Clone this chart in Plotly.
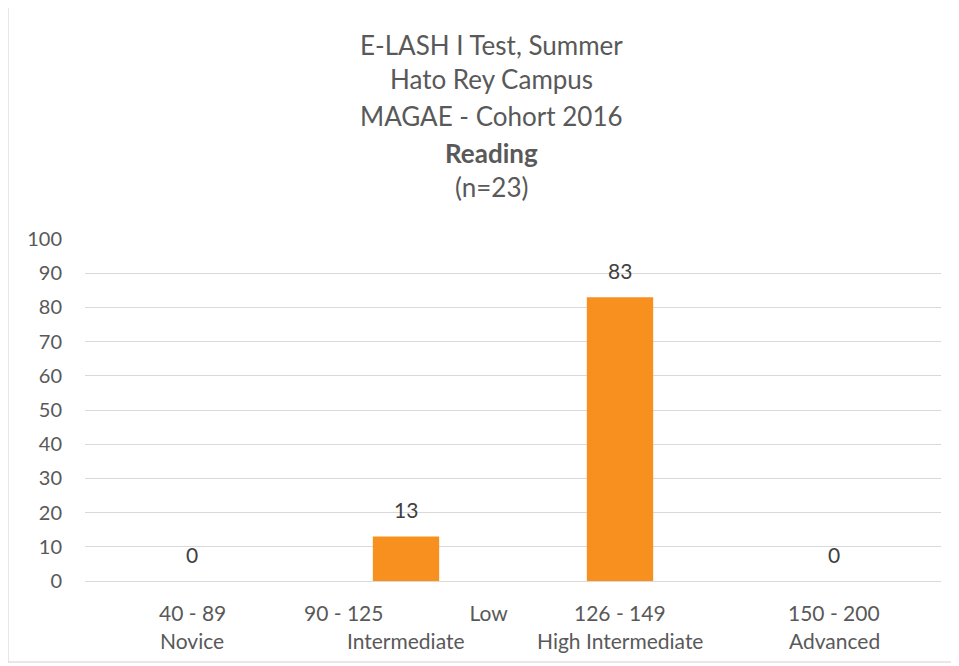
import plotly.graph_objects as go

categories = ["40 - 89 Novice", "90 - 125 Low Intermediate", "126 - 149 High Intermediate", "150 - 200 Advanced"]
label_line1 = ["40 - 89", "90 - 125" + "&nbsp;" * 16 + "Low", "126 - 149", "150 - 200"]
label_line2 = ["Novice", "Intermediate", "High Intermediate", "Advanced"]
values = [0, 13, 83, 0]
y_ticks = [0, 10, 20, 30, 40, 50, 60, 70, 80, 90, 100]
title_lines = ["E-LASH I Test, Summer", "Hato Rey Campus", "MAGAE - Cohort 2016", "<b>Reading</b>", "(n=23)"]

FONT = "Lato"
GREY = "#595959"

# page body adds an 8px offset; compensate
OFF = 8
W, H = 959 - OFF, 666 - OFF
L, R, T, B = 85 - OFF, 959 - 941, 239 - OFF, 666 - 581
pw, ph = W - L - R, H - T - B

def py(p):
    return (H - B - (p - OFF)) / ph

def px(p):
    return ((p - OFF) - L) / pw

fig = go.Figure()
fig.add_trace(go.Bar(
    x=categories, y=values, width=0.31,
    marker=dict(color="#F7901E", line=dict(width=0)),
    hoverinfo="skip",
))

annotations = []
title_y = [45, 79, 116, 153, 187]
for line, yp in zip(title_lines, title_y):
    annotations.append(dict(text=line, x=px(491), y=py(yp), xref="paper", yref="paper",
                            showarrow=False, xanchor="center", yanchor="middle",
                            font=dict(family=FONT, size=26, color=GREY)))

for cat, l1, l2 in zip(categories, label_line1, label_line2):
    annotations.append(dict(text=l1, x=cat, y=py(612), xref="x", yref="paper",
                            showarrow=False, xanchor="center", yanchor="middle",
                            font=dict(family=FONT, size=21, color=GREY)))
    annotations.append(dict(text=l2, x=cat, y=py(640), xref="x", yref="paper",
                            showarrow=False, xanchor="center", yanchor="middle",
                            font=dict(family=FONT, size=21, color=GREY)))

for cat, v in zip(categories, values):
    annotations.append(dict(text=str(v), x=cat, y=v, xref="x", yref="y",
                            showarrow=False, xanchor="center", yanchor="middle", yshift=27,
                            font=dict(family=FONT, size=21, color="#404040")))

fig.update_layout(
    width=W, height=H,
    margin=dict(l=L, r=R, t=T, b=B),
    paper_bgcolor="white", plot_bgcolor="white",
    showlegend=False,
    annotations=annotations,
    shapes=[dict(type="rect", xref="paper", yref="paper",
                 x0=px(8), x1=px(955), y0=py(662), y1=py(6),
                 line=dict(color="#D0D0D0", width=1), fillcolor="rgba(0,0,0,0)", layer="below")],
    xaxis=dict(showticklabels=False, showgrid=False, zeroline=False, showline=False,
               range=[-0.5, 3.5]),
    yaxis=dict(range=[0, 100], tickvals=y_ticks, showgrid=True, gridcolor="#D9D9D9", gridwidth=1,
               zeroline=True, zerolinecolor="#D9D9D9", zerolinewidth=1, showline=False,
               ticks="", ticklabelstandoff=22,
               tickfont=dict(family=FONT, size=20, color=GREY)),
)

fig.write_html("out.html")
